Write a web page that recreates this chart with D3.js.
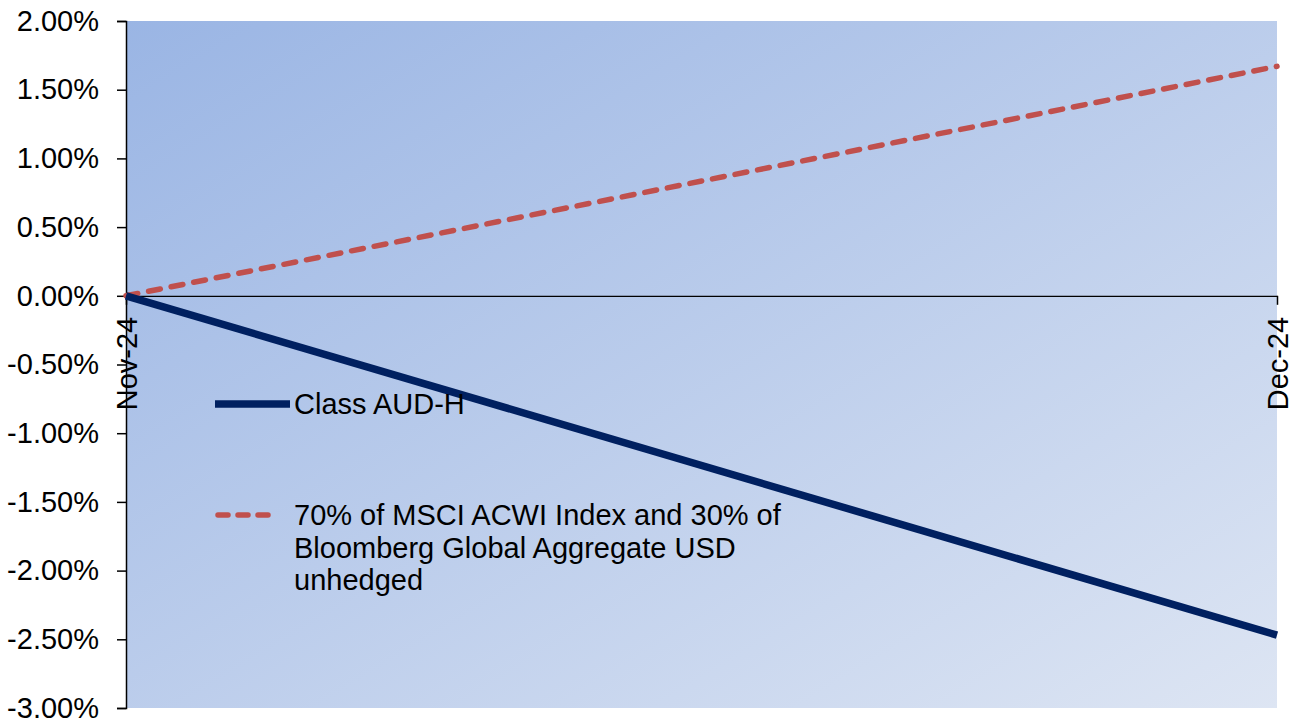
<!DOCTYPE html>
<html>
<head>
<meta charset="utf-8">
<script src="https://cdn.jsdelivr.net/npm/d3@7"></script>
<style>
  body { margin: 0; background: #fff; }
  svg { display: block; font-family: "Liberation Sans", Arial, sans-serif; }
</style>
</head>
<body>
<svg id="chart" width="1300" height="724"></svg>
<script>
// chart data
const categories = ["Nov-24", "Dec-24"];
const fundValues = [0, -2.47];
const benchValues = [0, 1.67];
const yTicks = [2, 1.5, 1, 0.5, 0, -0.5, -1, -1.5, -2, -2.5, -3];
const legendLines = [
  ["Class AUD-H"],
  ["70% of MSCI ACWI Index and 30% of", "Bloomberg Global Aggregate USD", "unhedged"]
];

const FONT = "29px";
const svg = d3.select("#chart");
const margin = { left: 126, right: 23, top: 21, bottom: 16 };
const width = 1300, height = 724;

const x = d3.scalePoint().domain(categories).range([margin.left, width - margin.right]);
const y = d3.scaleLinear().domain([-3, 2]).range([height - margin.bottom, margin.top]);

// background gradient
const defs = svg.append("defs");
const grad = defs.append("linearGradient")
  .attr("id", "bg").attr("x1", "0").attr("y1", "0").attr("x2", "1").attr("y2", "1");
grad.append("stop").attr("offset", "0").attr("stop-color", "#9ab5e4");
grad.append("stop").attr("offset", "1").attr("stop-color", "#dde5f3");

svg.append("rect")
  .attr("x", margin.left).attr("y", margin.top)
  .attr("width", width - margin.left - margin.right)
  .attr("height", height - margin.top - margin.bottom)
  .attr("fill", "url(#bg)");

// y axis
const yAxis = svg.append("g")
  .attr("transform", `translate(${margin.left},0)`)
  .call(d3.axisLeft(y).tickValues(yTicks).tickSize(9).tickPadding(18)
    .tickFormat(d => d.toFixed(2) + "%"));
yAxis.select(".domain").attr("stroke", "#000").attr("stroke-width", 1.5);
yAxis.selectAll(".tick line").attr("stroke", "#000").attr("stroke-width", 1.5);
yAxis.selectAll(".tick text")
  .attr("fill", "#000").style("font-size", FONT)
  .style("font-family", "Liberation Sans, Arial, sans-serif");

// zero line with category ticks
const xAxis = svg.append("g")
  .attr("transform", `translate(0,${y(0)})`)
  .call(d3.axisBottom(x).tickSize(9).tickSizeOuter(0));
xAxis.select(".domain").attr("stroke", "#000").attr("stroke-width", 1.2);
xAxis.selectAll(".tick line").attr("stroke", "#000").attr("stroke-width", 1.5);
xAxis.selectAll(".tick text")
  .attr("fill", "#000").style("font-size", FONT)
  .style("font-family", "Liberation Sans, Arial, sans-serif")
  .attr("text-anchor", "end")
  .attr("transform", "rotate(-90)")
  .attr("x", -21).attr("y", 0).attr("dy", "0.35em");

// lines
const line = d3.line().x((d, i) => x(categories[i])).y(d => y(d));

svg.append("path")
  .datum(benchValues)
  .attr("d", line)
  .attr("fill", "none")
  .attr("stroke", "#c0504d")
  .attr("stroke-width", 5.5)
  .attr("stroke-linecap", "round")
  .attr("stroke-dasharray", "12 11");

svg.append("path")
  .datum(fundValues)
  .attr("d", line)
  .attr("fill", "none")
  .attr("stroke", "#002060")
  .attr("stroke-width", 7.5);

// legend
const legend = svg.append("g");
const legY = [404, 515];
legend.append("line")
  .attr("x1", 215).attr("x2", 290).attr("y1", legY[0]).attr("y2", legY[0])
  .attr("stroke", "#002060").attr("stroke-width", 7.5);
legend.append("line")
  .attr("x1", 218).attr("x2", 268).attr("y1", legY[1]).attr("y2", legY[1])
  .attr("stroke", "#c0504d").attr("stroke-width", 5.5)
  .attr("stroke-linecap", "round").attr("stroke-dasharray", "10 10");

legendLines.forEach((lines, i) => {
  const t = legend.append("text")
    .attr("x", 294).attr("y", legY[i])
    .attr("fill", "#000").style("font-size", FONT);
  lines.forEach((s, j) => {
    t.append("tspan").attr("x", 294).attr("dy", j === 0 ? "0.35em" : "32.5px").text(s);
  });
});
</script>
</body>
</html>
